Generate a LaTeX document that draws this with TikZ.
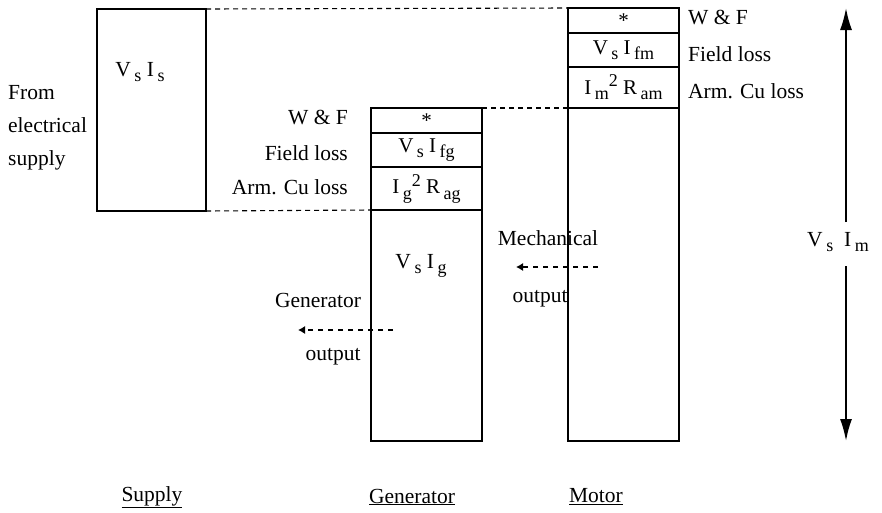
\documentclass[tikz,border=0pt]{standalone}
\usepackage{fontspec}
\setmainfont{Liberation Serif}
\usetikzlibrary{arrows.meta, positioning}
\newcommand{\lo}[1]{\,\raisebox{-0.55ex}{\fontsize{18}{18}\selectfont #1}}
\newcommand{\hi}[1]{\raisebox{0.8ex}{\fontsize{18}{18}\selectfont #1}}

\begin{document}
\begin{tikzpicture}[
    x=1pt, y=-1pt,
    node distance=0pt,
    box/.style={rectangle, draw=black, line width=1.8pt, minimum width=111pt, inner sep=0pt, outer sep=0pt, font=\fontsize{21}{23}\selectfont},
    lbl/.style={font=\fontsize{21.5}{23}\selectfont, inner sep=0pt},
    guide/.style={line width=1.1pt, dash pattern=on 5pt off 4pt},
    outarrow/.style={-{Latex[length=7pt,width=8pt]}, line width=1.1pt, dash pattern=on 5pt off 5pt},
    bigarrow/.style={-{Latex[length=22pt,width=12pt]}, line width=1.8pt}
]
\useasboundingbox (0,0) rectangle (882,512);

% supply
\node[box, minimum width=109pt, minimum height=202pt, anchor=north] (sup) at (151.5,9) {};
\node[lbl] (supv) at (140,72) {V\lo{s} I\lo{s}};
\node[lbl, align=left, anchor=west, font=\fontsize{21.5}{33}\selectfont] (from) at (8,128) {From\\electrical\\supply};

% generator
\node[box, minimum height=25pt, anchor=north] (g1) at (426.5,108) {*};
\node[box, minimum height=34pt, below=of g1] (g2) {V\lo{s} I\lo{fg}};
\node[box, minimum height=43pt, below=of g2] (g3) {I\lo{g}\hi{2} R\lo{ag}};
\node[box, minimum height=231pt, below=of g3] (g4) {};
\node[lbl] (gv) at (421,266) {V\lo{s} I\lo{g}};

\node[lbl, anchor=east] (gwf) at (348,118) {W \& F};
\node[lbl, anchor=east] (gfl) at (348,153) {Field loss};
\node[lbl, anchor=east] (gcu) at (348,187) {Arm. Cu loss};

% motor
\node[box, minimum height=25pt, anchor=north] (m1) at (623.5,8) {*};
\node[box, minimum height=34pt, below=of m1] (m2) {V\lo{s} I\lo{fm}};
\node[box, minimum height=41pt, below=of m2] (m3) {I\lo{m}\hi{2} R\lo{am}};
\node[box, minimum height=333pt, below=of m3] (m4) {};

\node[lbl, anchor=west] (mwf) at (688,18) {W \& F};
\node[lbl, anchor=west] (mfl) at (688,54) {Field loss};
\node[lbl, anchor=west] (mcu) at (688,91) {Arm. Cu loss};

% guide lines
\draw[guide] (sup.north east) -- (m1.north west);
\draw[guide] (sup.south east) -- (g4.north west);
\draw[guide] (g1.north east) -- (m4.north west);

% outputs
\node[lbl] (mech) at (548,238) {Mechanical};
\node[lbl] (mout) at (540,299) {output};
\coordinate (ma) at (598,267);
\coordinate (mb) at (516,267);
\draw[outarrow] (ma) -- (mb);

\node[lbl] (gen) at (318,300) {Generator};
\node[lbl] (gout) at (333,357) {output};
\coordinate (ga) at (393,330);
\coordinate (gb) at (298,330);
\draw[outarrow] (ga) -- (gb);

% V_s I_m
\node[lbl] (vim) at (838,242) {V\lo{s} \ I\lo{m}};
\coordinate (vtop) at (846,8);
\coordinate (vbot) at (846,441);
\draw[bigarrow] (vtop |- 0,222) -- (vtop);
\draw[bigarrow] (vbot |- 0,266) -- (vbot);

% titles
\node[lbl] (tsup) at (152,497) {\underline{Supply}};
\node[lbl] (tgen) at (412,497) {\underline{Generator}};
\node[lbl] (tmot) at (596,497) {\underline{Motor}};

\end{tikzpicture}
\end{document}
